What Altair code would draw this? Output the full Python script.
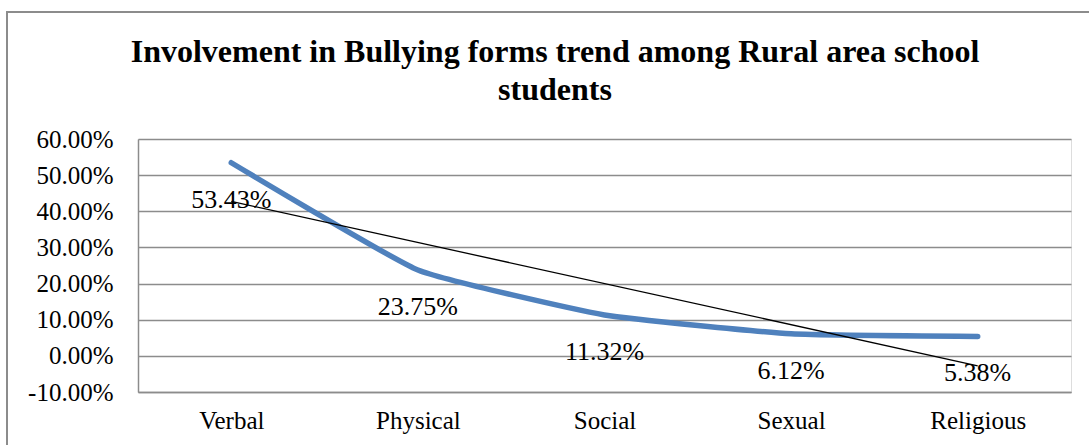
import altair as alt
import pandas as pd

categories = ["Verbal", "Physical", "Social", "Sexual", "Religious"]
values = [0.5343, 0.2375, 0.1132, 0.0612, 0.0538]
positions = [1, 2, 3, 4, 5]
y_ticks = [-0.1, 0.0, 0.1, 0.2, 0.3, 0.4, 0.5, 0.6]
title_lines = ["Involvement in Bullying forms trend among Rural area school", "students"]

df = pd.DataFrame({"idx": positions, "cat": categories, "val": values})

label_expr = "".join(f"datum.value == {p} ? '{c}' : " for p, c in zip(positions, categories)) + "''"

FONT = "Liberation Serif"
GRID = "#8c8c8c"
FS = 25

x = alt.X("idx:Q",
          scale=alt.Scale(domain=[0.5, 5.5], nice=False, zero=False),
          axis=alt.Axis(values=positions, labelExpr=label_expr, grid=False, ticks=False,
                        title=None, domainColor=GRID, domainWidth=1.5, labelFont=FONT,
                        labelFontSize=FS, labelPadding=16, labelColor="black"))
y = alt.Y("val:Q",
          scale=alt.Scale(domain=[-0.1, 0.6], nice=False, zero=False),
          axis=alt.Axis(values=y_ticks, labelExpr="replace(format(datum.value, '.2%'), '\u2212', '-')",
                        grid=True, gridColor=GRID, gridWidth=1.3,
                        ticks=False, title=None, domainColor=GRID, domainWidth=1.5,
                        labelFont=FONT, labelFontSize=FS, labelPadding=25, labelColor="black"))

base = alt.Chart(df)

border = base.mark_rect(fill=None, stroke=GRID, strokeWidth=1.5).encode(
    x=alt.value(-131), x2=alt.value(960), y=alt.value(-127), y2=alt.value(330))

title = alt.Chart(pd.DataFrame({"t": [0]})).mark_text(
    font=FONT, fontSize=32, fontWeight="bold", color="black", align="center",
    baseline="alphabetic", lineHeight=38).encode(
    x=alt.value(417), y=alt.value(-77), text=alt.value(title_lines))

line = base.mark_line(color="#4F81BD", strokeWidth=5.5, interpolate="cardinal", tension=0.6,
                      strokeCap="round").encode(x=x, y=y)

trend = base.mark_line(color="black", strokeWidth=1.3).transform_regression(
    "idx", "val", method="linear", extent=[1, 5]).encode(x=x, y=y)

labels = base.mark_text(dy=37, font=FONT, fontSize=FS + 1, color="black").encode(
    x=x, y=y, text=alt.Text("val:Q", format=".2%"))

chart = alt.layer(border, title, line, labels, trend).properties(
    width=933, height=253,
    padding={"left": 138, "top": 139, "right": 18, "bottom": 53},
    autosize=alt.AutoSizeParams(type="none"),
).configure_view(stroke=None).configure(background="white")

chart.save("out.html", embed_options={"renderer": "svg", "actions": False})
